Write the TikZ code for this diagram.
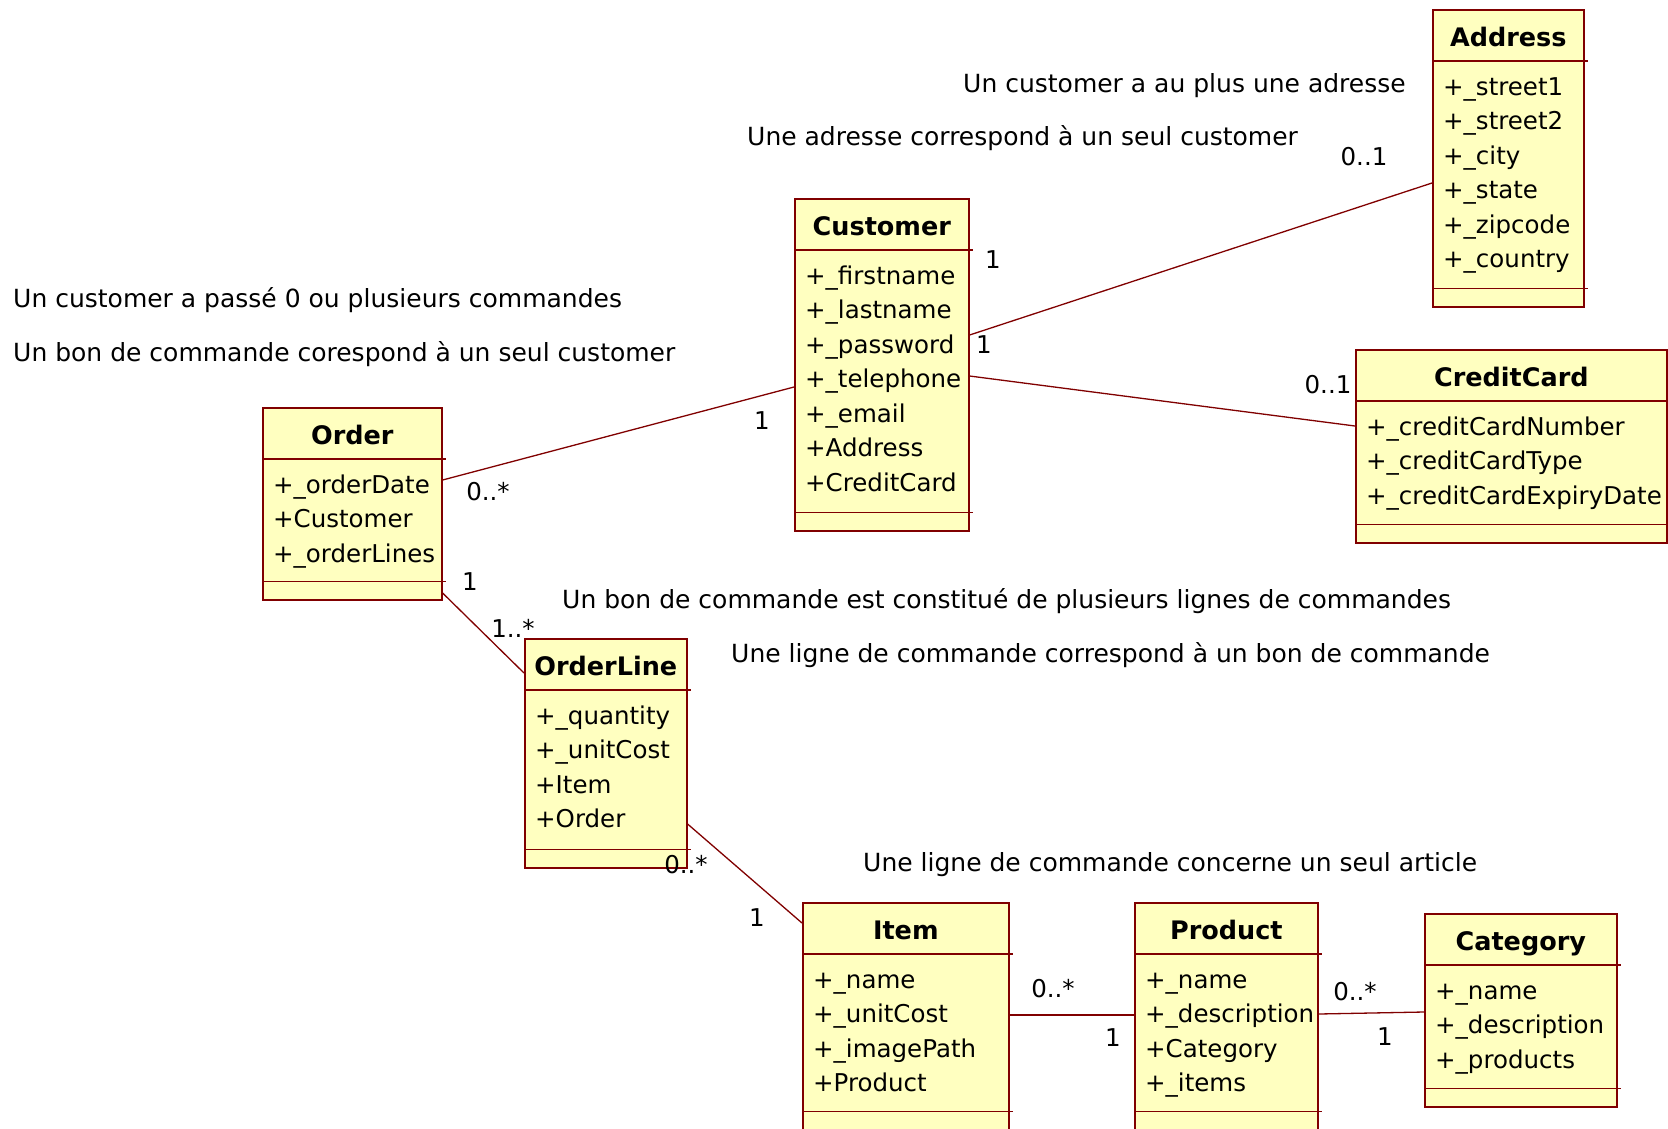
\documentclass[tikz,border=0pt]{standalone}
\usepackage{fontspec}
\setmainfont{DejaVu Sans}
\usepackage{tikz}

\definecolor{umlfill}{RGB}{255,255,192}
\definecolor{umlline}{RGB}{128,0,0}

% class box: name, x, y (top left), width, height, title, attributes
\newcommand{\umlclass}[7]{%
  \node[classbox, minimum width=#4pt, minimum height=#5pt] (#1) at (#2,#3) {};
  \draw[classsep] ([shift={(0,52)}]#1.north west) -- ([shift={(3,52)}]#1.north east);
  \draw[classsep] ([shift={(0,-19)}]#1.south west) -- ([shift={(3,-19)}]#1.south east);
  \node[classname] (#1-title) at ([shift={(0,37)}]#1.north) {#6};
  \foreach \attr [count=\i] in {#7}
    \node[classattr] (#1-a\i) at ([shift={(11,{86+(\i-1)*34.5})}]#1.north west) {\attr};
}

\begin{document}
\begin{tikzpicture}
  [x=1pt,y=-1pt,
   classbox/.style={rectangle,draw=umlline,fill=umlfill,line width=1.6pt,anchor=north west,inner sep=0pt},
   classsep/.style={draw=umlline,line width=1.6pt},
   classname/.style={anchor=base,inner sep=0pt,font=\bfseries\fontsize{25.5}{30}\selectfont},
   classattr/.style={anchor=base west,inner sep=0pt,font=\fontsize{24.5}{30}\selectfont},
   note/.style={anchor=base west,inner sep=0pt,font=\fontsize{25}{30}\selectfont},
   mult/.style={inner sep=0pt,font=\fontsize{24.5}{30}\selectfont},
   assoc/.style={draw=umlline,line width=1.3pt}]
  \useasboundingbox (0,0) rectangle (1668,1128);

  % classes
  \umlclass{address}{1432}{9}{151}{297}{Address}{+\_street1,+\_street2,+\_city,+\_state,+\_zipcode,+\_country}
  \umlclass{customer}{794}{198}{174}{332}{Customer}{+\_firstname,+\_lastname,+\_password,+\_telephone,+\_email,+Address,+CreditCard}
  \umlclass{creditcard}{1355}{349}{311}{193}{CreditCard}{+\_creditCardNumber,+\_creditCardType,+\_creditCardExpiryDate}
  \umlclass{order}{262}{407}{179}{192}{Order}{+\_orderDate,+Customer,+\_orderLines}
  \umlclass{orderline}{524}{638}{162}{229}{OrderLine}{+\_quantity,+\_unitCost,+Item,+Order}
  \umlclass{item}{802}{902}{206}{227}{Item}{+\_name,+\_unitCost,+\_imagePath,+Product}
  \umlclass{product}{1134}{902}{183}{227}{Product}{+\_name,+\_description,+Category,+\_items}
  \umlclass{category}{1424}{913}{192}{193}{Category}{+\_name,+\_description,+\_products}

  % associations
  \draw[assoc] ([shift={(0,73)}]order.north east) -- ([shift={(0,189)}]customer.north west);
  \draw[assoc] ([shift={(0,137)}]customer.north east) -- ([shift={(0,174)}]address.north west);
  \draw[assoc] ([shift={(0,178)}]customer.north east) -- ([shift={(0,77)}]creditcard.north west);
  \draw[assoc] ([shift={(0,186)}]order.north east) -- ([shift={(0,35)}]orderline.north west);
  \draw[assoc] ([shift={(0,186)}]orderline.north east) -- ([shift={(0,21)}]item.north west);
  \draw[assoc] ([shift={(0,113)}]item.north east) -- ([shift={(0,113)}]product.north west);
  \draw[assoc] ([shift={(0,112)}]product.north east) -- ([shift={(0,99)}]category.north west);

  % multiplicities
  \node[mult] (m1) at (488,492) {0..*};
  \node[mult] (m2) at (762,421) {1};
  \node[mult] (m3) at (993,260) {1};
  \node[mult] (m4) at (1364,157) {0..1};
  \node[mult] (m5) at (984,345) {1};
  \node[mult] (m6) at (1328,385) {0..1};
  \node[mult] (m7) at (470,582) {1};
  \node[mult] (m8) at (513,628) {1..*};
  \node[mult] (m9) at (686,865) {0..*};
  \node[mult] (m10) at (757,918) {1};
  \node[mult] (m11) at (1053,989) {0..*};
  \node[mult] (m12) at (1113,1038) {1};
  \node[mult] (m13) at (1355,992) {0..*};
  \node[mult] (m14) at (1385,1037) {1};

  % notes on the associations
  \node[note] (n1) at (963,92) {Un customer a au plus une adresse};
  \node[note] (n2) at (747,145) {Une adresse correspond à un seul customer};
  \node[note] (n3) at (13,307) {Un customer a passé 0 ou plusieurs commandes};
  \node[note] (n4) at (13,361) {Un bon de commande corespond à un seul customer};
  \node[note] (n5) at (562,608) {Un bon de commande est constitué de plusieurs lignes de commandes};
  \node[note] (n6) at (731,662) {Une ligne de commande correspond à un bon de commande};
  \node[note] (n7) at (863,871) {Une ligne de commande concerne un seul article};
\end{tikzpicture}
\end{document}
